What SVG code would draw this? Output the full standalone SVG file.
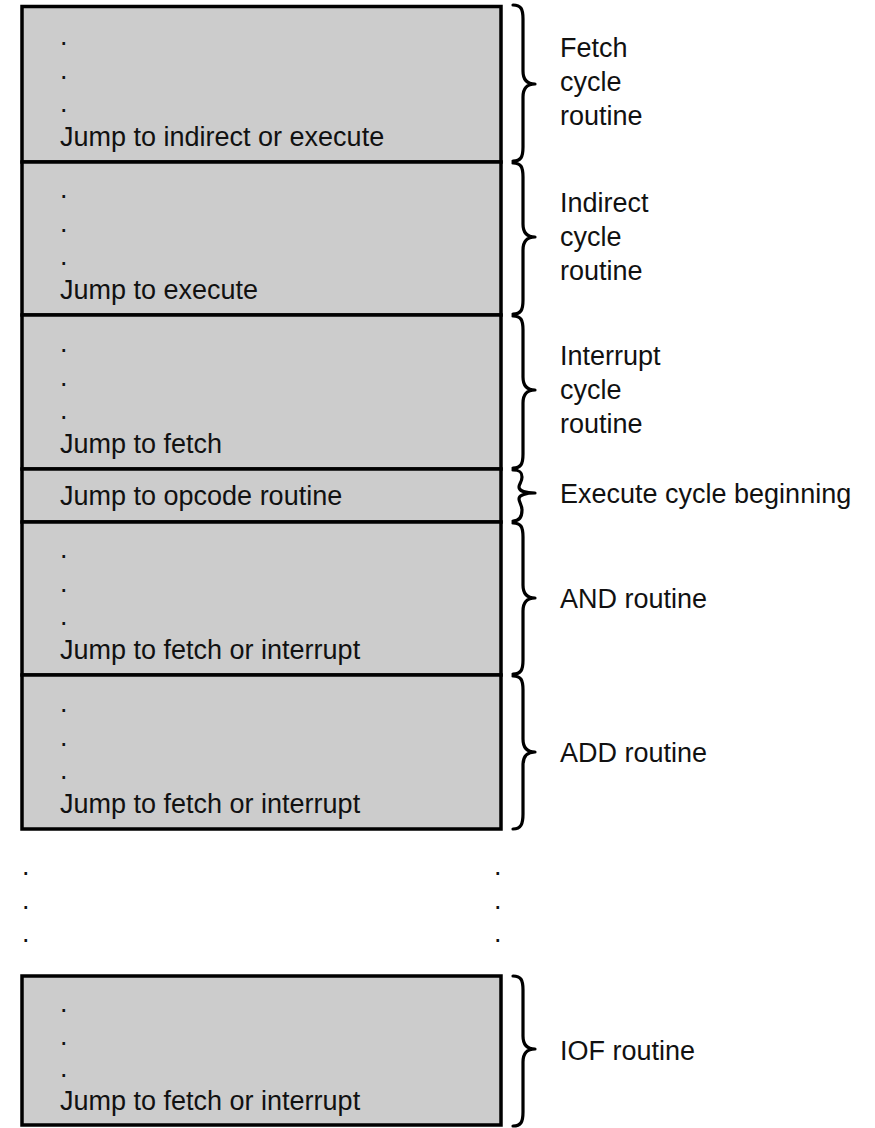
<svg xmlns="http://www.w3.org/2000/svg" width="875" height="1128" viewBox="0 0 875 1128">
  <style>
    .box { fill: #cccccc; stroke: #000000; stroke-width: 3.5; }
    .t { font-family: "Liberation Sans", Arial, sans-serif; font-size: 27px; fill: #111111; }
    .brace { fill: none; stroke: #000000; stroke-width: 3.2; stroke-linecap: round; stroke-linejoin: round; }
  </style>

  <!-- Microprogram memory sections -->
  <g id="fetch">
    <rect class="box" x="22" y="6.5" width="479" height="155.5"/>
    <text class="t" x="60" y="45">.</text>
    <text class="t" x="60" y="78.5">.</text>
    <text class="t" x="60" y="112">.</text>
    <text class="t" x="60" y="146">Jump to indirect or execute</text>
  </g>
  <g id="indirect">
    <rect class="box" x="22" y="162" width="479" height="153"/>
    <text class="t" x="60" y="198">.</text>
    <text class="t" x="60" y="231.5">.</text>
    <text class="t" x="60" y="265">.</text>
    <text class="t" x="60" y="299">Jump to execute</text>
  </g>
  <g id="interrupt">
    <rect class="box" x="22" y="315" width="479" height="154"/>
    <text class="t" x="60" y="352">.</text>
    <text class="t" x="60" y="385.5">.</text>
    <text class="t" x="60" y="419">.</text>
    <text class="t" x="60" y="453">Jump to fetch</text>
  </g>
  <g id="execute">
    <rect class="box" x="22" y="469" width="479" height="53"/>
    <text class="t" x="60" y="505">Jump to opcode routine</text>
  </g>
  <g id="and">
    <rect class="box" x="22" y="522" width="479" height="153"/>
    <text class="t" x="60" y="558">.</text>
    <text class="t" x="60" y="591.5">.</text>
    <text class="t" x="60" y="625">.</text>
    <text class="t" x="60" y="659">Jump to fetch or interrupt</text>
  </g>
  <g id="add">
    <rect class="box" x="22" y="675" width="479" height="154"/>
    <text class="t" x="60" y="712">.</text>
    <text class="t" x="60" y="745.5">.</text>
    <text class="t" x="60" y="779">.</text>
    <text class="t" x="60" y="813">Jump to fetch or interrupt</text>
  </g>

  <!-- Elided sections -->
  <g id="ellipsis">
    <text class="t" x="22" y="875">.</text>
    <text class="t" x="22" y="908.5">.</text>
    <text class="t" x="22" y="942">.</text>
    <text class="t" x="494" y="875">.</text>
    <text class="t" x="494" y="908.5">.</text>
    <text class="t" x="494" y="942">.</text>
  </g>

  <g id="iof">
    <rect class="box" x="22" y="976" width="479" height="149"/>
    <text class="t" x="60" y="1012">.</text>
    <text class="t" x="60" y="1044.5">.</text>
    <text class="t" x="60" y="1077">.</text>
    <text class="t" x="60" y="1110">Jump to fetch or interrupt</text>
  </g>

  <!-- Braces linking sections to their labels -->
  <g id="connectors">
    <path class="brace" d="M 513 5 C 521 5 523 9 523 19 L 523 71 C 523 80 527 84 535 84 C 527 84 523 88 523 97 L 523 147 C 523 157 521 161 513 161"/>
    <path class="brace" d="M 513 163 C 521 163 523 167 523 177 L 523 224 C 523 233 527 237 535 237 C 527 237 523 241 523 250 L 523 300 C 523 310 521 314 513 314"/>
    <path class="brace" d="M 513 316 C 521 316 523 320 523 330 L 523 377 C 523 386 527 390 535 390 C 527 390 523 394 523 403 L 523 454 C 523 464 521 468 513 468"/>
    <path class="brace" d="M 513 470 C 520 470 522 472 522 477 C 522 482 519 484 519 487 C 519 491 526 493 535 493 C 526 493 519 495 519 499 C 519 502 522 505 522 510 C 522 516 520 521 513 521"/>
    <path class="brace" d="M 513 523 C 521 523 523 527 523 537 L 523 585 C 523 594 527 598 535 598 C 527 598 523 602 523 611 L 523 660 C 523 670 521 674 513 674"/>
    <path class="brace" d="M 513 676 C 521 676 523 680 523 690 L 523 739 C 523 748 527 752 535 752 C 527 752 523 756 523 765 L 523 814 C 523 824 521 829 513 829"/>
    <path class="brace" d="M 513 976 C 521 976 523 980 523 990 L 523 1036 C 523 1045 527 1049 535 1049 C 527 1049 523 1053 523 1062 L 523 1112 C 523 1122 521 1126 513 1126"/>
  </g>

  <!-- Section labels -->
  <g id="labels">
    <text class="t" x="560" y="57">Fetch</text>
    <text class="t" x="560" y="91">cycle</text>
    <text class="t" x="560" y="125">routine</text>
    <text class="t" x="560" y="212">Indirect</text>
    <text class="t" x="560" y="246">cycle</text>
    <text class="t" x="560" y="280">routine</text>
    <text class="t" x="560" y="365">Interrupt</text>
    <text class="t" x="560" y="399">cycle</text>
    <text class="t" x="560" y="433">routine</text>
    <text class="t" x="560" y="503">Execute cycle beginning</text>
    <text class="t" x="560" y="608">AND routine</text>
    <text class="t" x="560" y="762">ADD routine</text>
    <text class="t" x="560" y="1060">IOF routine</text>
  </g>
</svg>
